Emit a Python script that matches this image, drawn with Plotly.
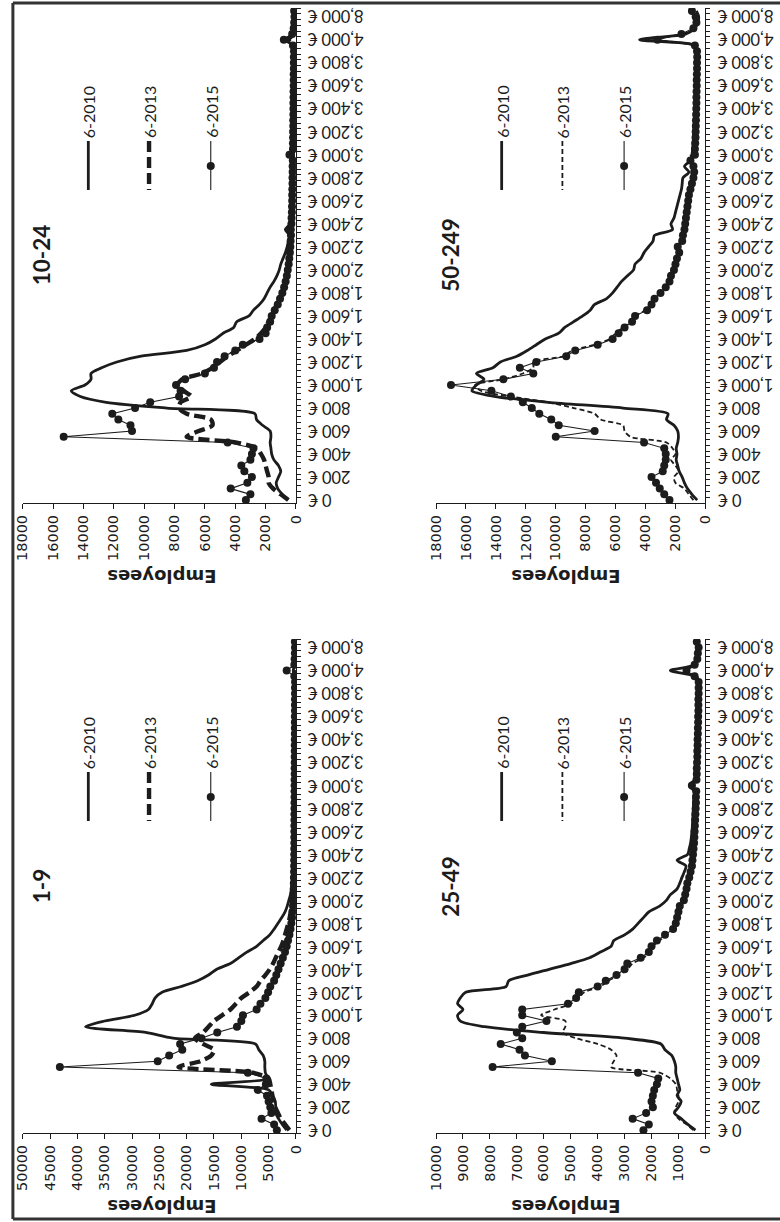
import plotly.graph_objects as go

W, H = 780, 1222
INK = "#1c1c1c"

# Wage bins (monthly gross salary, euros); labels shown every fourth bin
BINS = list(range(0, 4001, 50)) + [5000, 6000, 7000, 8000, 10000]
CATS = [f"{b:,} €" for b in BINS]
LABEL_STEP = 4

SERIES_NAMES = ["6-2010", "6-2013", "6-2015"]

TICKS_50K = [0, 5000, 10000, 15000, 20000, 25000, 30000, 35000, 40000, 45000, 50000]
TICKS_18K = [0, 2000, 4000, 6000, 8000, 10000, 12000, 14000, 16000, 18000]
TICKS_10K = [0, 1000, 2000, 3000, 4000, 5000, 6000, 7000, 8000, 9000, 10000]

# ---- firm size 1-9 ----
E1_2010 = [1700, 2500, 3200, 3700, 3700, 3800, 4300, 5000, 15500, 5200,
           5600, 5700, 5700, 6000, 6800, 7400, 22500, 27500, 38500, 35000,
           29500, 27000, 26300, 25800, 24500, 21000, 18000, 16000, 14500, 12000,
           10500, 9000, 7200, 6000, 4800, 4000, 3300, 2600, 2000, 1600,
           1300, 1000, 850, 750, 650, 600, 550, 500, 480, 450,
           420, 400, 390, 380, 370, 360, 350, 340, 330, 320,
           320, 310, 300, 300, 290, 280, 280, 270, 260, 260,
           250, 250, 240, 240, 230, 230, 220, 220, 210, 250,
           500, 200, 180, 160, 150, 150]
E1_2013 = [1200, 2000, 2800, 3300, 3800, 4000, 4300, 4500, 4700, 5000,
           8000, 21500, 17500, 15500, 15000, 17000, 18500, 17000, 16000, 15000,
           13500, 12000, 11000, 10000, 8500, 7200, 6500, 5600, 4800, 4200,
           3700, 3200, 2700, 2300, 2000, 1700, 1400, 1150, 950, 800,
           700, 620, 560, 520, 480, 450, 420, 400, 380, 360,
           340, 330, 320, 310, 300, 300, 290, 280, 270, 270,
           260, 250, 250, 240, 240, 230, 230, 220, 220, 210,
           210, 200, 200, 190, 190, 180, 180, 170, 170, 200,
           300, 160, 150, 140, 130, 130]
E1_2015 = [3500, 4000, 6300, 4500, 4700, 5000, 5300, 7000, 5500, 5400,
           8800, 43200, 25300, 23200, 20800, 21200, 17300, 14400, 10800, 10000,
           9700, 7200, 6500, 5600, 5100, 4700, 4000, 3600, 3200, 2800,
           2400, 2000, 1700, 1450, 1200, 1000, 850, 720, 620, 540,
           480, 440, 410, 390, 370, 350, 340, 330, 320, 310,
           300, 300, 290, 290, 280, 280, 270, 270, 260, 260,
           250, 250, 240, 240, 230, 230, 220, 220, 210, 210,
           200, 200, 200, 190, 190, 180, 180, 180, 170, 300,
           1700, 300, 250, 200, 180, 200]

# ---- firm size 10-24 ----
E10_2010 = [550, 900, 1200, 1300, 1150, 1000, 1150, 1450, 1600, 1650,
            1700, 1650, 1700, 2200, 2600, 2700, 8500, 12500, 14200, 14800,
            13900, 13500, 13500, 12800, 11800, 10200, 7200, 6000, 5300, 4800,
            4100, 3900, 3100, 2800, 2400, 2100, 1900, 1700, 1450, 1250,
            1100, 1000, 850, 700, 580, 500, 430, 700, 380, 260,
            200, 200, 190, 210, 180, 170, 190, 160, 170, 150,
            160, 150, 140, 150, 130, 140, 130, 120, 130, 120,
            110, 120, 110, 100, 110, 100, 110, 100, 90, 150,
            750, 150, 100, 100, 80, 100]
E10_2013 = [500, 1000, 1500, 1800, 1800, 1900, 2000, 2100, 2300, 2600,
            3900, 7200, 6400, 5500, 5600, 7200, 7700, 7600, 6900, 7400,
            7800, 7500, 6200, 5500, 5000, 4500, 3900, 3300, 2700, 2300,
            2000, 1800, 1600, 1450, 1250, 1050, 900, 800, 700, 600,
            520, 470, 430, 400, 370, 340, 320, 330, 290, 270,
            250, 240, 230, 230, 220, 210, 210, 200, 200, 190,
            190, 180, 180, 170, 170, 160, 160, 160, 150, 150,
            140, 140, 140, 130, 130, 130, 120, 120, 120, 150,
            500, 150, 100, 100, 90, 100]
E10_2015 = [3300, 3000, 4300, 3200, 2900, 3400, 3600, 3000, 2900, 2800,
            4500, 15300, 10800, 10900, 11700, 12100, 10600, 9600, 7700, 7600,
            7900, 7300, 6000, 5400, 5200, 4700, 4000, 3500, 2400, 2000,
            1900, 1700, 1600, 1400, 1200, 1050, 900, 780, 680, 600,
            540, 480, 440, 400, 370, 350, 330, 340, 300, 290,
            270, 260, 250, 250, 240, 230, 230, 220, 220, 210,
            430, 200, 200, 190, 190, 180, 180, 170, 170, 170,
            160, 160, 150, 150, 150, 140, 140, 140, 130, 200,
            800, 250, 150, 120, 100, 120]

# ---- firm size 25-49 ----
E25_2010 = [370, 650, 900, 1150, 1000, 900, 1050, 950, 1000, 1050,
            1100, 1100, 1150, 1250, 1500, 1650, 3000, 6000, 8200, 9100,
            9200, 9000, 9200, 9100, 8900, 7400, 7300, 6600, 5800, 5000,
            4300, 3900, 3500, 3400, 3000, 2700, 2500, 2300, 2100, 1700,
            1450, 1300, 1050, 950, 870, 780, 720, 1050, 660, 600,
            550, 520, 500, 480, 470, 460, 450, 440, 430, 420,
            600, 400, 390, 380, 370, 360, 360, 350, 340, 340,
            330, 330, 320, 320, 310, 310, 300, 300, 300, 400,
            1300, 400, 300, 250, 250, 280]
E25_2013 = [450, 700, 1000, 1150, 1100, 1000, 1000, 1050, 1100, 1300,
            1700, 3500, 3400, 3300, 3500, 4000, 4800, 5300, 5200, 5200,
            6100, 5600, 5000, 4700, 4500, 3900, 3600, 3200, 2900, 2700,
            2300, 2050, 1950, 1700, 1450, 1200, 1100, 1000, 950, 880,
            780, 720, 660, 610, 560, 520, 490, 470, 450, 430,
            410, 400, 390, 380, 370, 360, 350, 340, 330, 330,
            450, 320, 310, 300, 300, 290, 290, 280, 280, 270,
            270, 270, 260, 260, 250, 250, 250, 240, 240, 300,
            800, 300, 250, 220, 220, 250]
E25_2015 = [2300, 2100, 2700, 2200, 1950, 2000, 1950, 1900, 1800, 1750,
            2500, 7900, 5700, 6700, 6900, 7600, 6800, 7000, 6800, 5900,
            6800, 6800, 5100, 4800, 4700, 4000, 3700, 3300, 3000, 2900,
            2400, 2100, 2000, 1800, 1500, 1200, 1100, 1050, 1000, 950,
            800, 750, 700, 670, 600, 550, 500, 480, 460, 440,
            420, 410, 400, 390, 380, 370, 360, 350, 350, 340,
            500, 330, 320, 320, 310, 300, 300, 290, 290, 280,
            280, 270, 270, 260, 260, 260, 250, 250, 250, 400,
            700, 400, 300, 280, 250, 320]

# ---- firm size 50-249 ----
E50_2010 = [550, 900, 1200, 1400, 1550, 1750, 1850, 1950, 1900, 1950,
            1850, 1800, 1850, 2100, 2600, 2500, 5500, 10500, 14000, 15600,
            15300, 14800, 15300, 14200, 13700, 12600, 11900, 11300, 10700, 9800,
            9400, 8800, 8200, 7700, 7400, 6600, 6200, 5900, 5600, 5200,
            4800, 4700, 4300, 4100, 3800, 3500, 3400, 2200, 2300, 2100,
            2000, 1900, 1800, 1700, 1600, 1550, 1500, 1100, 1400, 1000,
            900, 850, 820, 800, 780, 760, 740, 720, 700, 690,
            680, 670, 660, 650, 640, 630, 620, 610, 600, 700,
            4400, 1300, 700, 500, 450, 600]
E50_2013 = [800, 1100, 1400, 2000, 2100, 1800, 2000, 2300, 2000, 2200,
            2600, 5000, 5400, 5500, 7000, 7400, 8800, 10500, 13000, 15000,
            15400, 13500, 12200, 11500, 11500, 9500, 8900, 7400, 6400, 6000,
            5500, 5000, 4700, 4000, 3700, 3500, 3100, 2800, 2500, 2400,
            2200, 2100, 1950, 1800, 1900, 1600, 1500, 1450, 1400, 1350,
            1300, 1250, 1200, 1150, 1100, 1000, 950, 900, 850, 800,
            1000, 780, 760, 740, 720, 700, 690, 680, 670, 660,
            650, 640, 630, 620, 610, 600, 600, 590, 580, 650,
            3600, 1500, 700, 550, 500, 700]
E50_2015 = [2400, 2750, 3050, 3300, 3600, 2850, 2750, 2650, 2650, 2750,
            4100, 10000, 7400, 9800, 10300, 11100, 11600, 12200, 13000, 14300,
            17000, 13500, 11500, 12400, 11300, 9300, 8700, 7200, 6200, 5800,
            5400, 4900, 4700, 3900, 3600, 3400, 3000, 2650, 2400, 2300,
            2100, 2000, 1900, 1750, 1850, 1550, 1500, 1400, 1350, 1300,
            1250, 1200, 1150, 1100, 1000, 900, 800, 750, 800, 1000,
            700, 700, 680, 660, 650, 640, 630, 620, 610, 600,
            600, 590, 580, 580, 570, 560, 560, 550, 560, 700,
            3200, 1600, 800, 600, 650, 900]

# Panel geometry in page pixels: plot box (left, right, top, bottom)
PANELS = [
    dict(title="10-24", box=(15, 294, 8, 503), vmax=18000, ticks=TICKS_18K,
         data=(E10_2010, E10_2013, E10_2015), heavy_dash=True, title_x=34, emp_x=157),
    dict(title="50-249", box=(437, 712, 8, 503), vmax=18000, ticks=TICKS_18K,
         data=(E50_2010, E50_2013, E50_2015), heavy_dash=False, title_x=451, emp_x=570),
    dict(title="1-9", box=(15, 294, 639, 1133), vmax=50000, ticks=TICKS_50K,
         data=(E1_2010, E1_2013, E1_2015), heavy_dash=True, title_x=34, emp_x=157),
    dict(title="25-49", box=(437, 712, 639, 1133), vmax=10000, ticks=TICKS_10K,
         data=(E25_2010, E25_2013, E25_2015), heavy_dash=False, title_x=451, emp_x=570),
]


def px(x):
    return x / W


def py(y):
    return 1 - y / H


fig = go.Figure()
annotations = []
shapes = []

for k, p in enumerate(PANELS):
    s = "" if k == 0 else str(k + 1)
    x0, x1, yt, yb = p["box"]
    e2010, e2013, e2015 = p["data"]
    dash13 = dict(width=4.4, dash="11px,5px") if p["heavy_dash"] else dict(width=1.8, dash="5px,3px")

    fig.add_trace(go.Scatter(
        x=e2010, y=CATS, xaxis="x" + s, yaxis="y" + s, mode="lines", name=SERIES_NAMES[0],
        line=dict(color=INK, width=2.8, shape="spline", smoothing=0.8)))
    fig.add_trace(go.Scatter(
        x=e2013, y=CATS, xaxis="x" + s, yaxis="y" + s, mode="lines", name=SERIES_NAMES[1],
        line=dict(color=INK, shape="spline", smoothing=0.8, **dash13)))
    fig.add_trace(go.Scatter(
        x=e2015, y=CATS, xaxis="x" + s, yaxis="y" + s, mode="lines+markers", name=SERIES_NAMES[2],
        line=dict(color=INK, width=1.1),
        marker=dict(color=INK, size=8, line=dict(width=0))))

    fig.update_layout(**{
        "xaxis" + s: dict(
            domain=[px(x0), px(x1)], anchor="y" + s, range=[p["vmax"], 0],
            tickmode="array", tickvals=p["ticks"], ticktext=[str(t) for t in p["ticks"]],
            tickangle=-90, ticks="outside", ticklen=5, tickcolor=INK, tickwidth=1.2,
            showline=True, linecolor=INK, linewidth=1.2, showgrid=False, zeroline=False,
            tickfont=dict(family="DejaVu Sans", size=14.5, color=INK), fixedrange=True),
        "yaxis" + s: dict(
            domain=[py(yb), py(yt)], anchor="x" + s, side="right", type="category",
            categoryorder="array", categoryarray=CATS, range=[-0.5, len(CATS) - 0.5],
            showticklabels=False, ticks="outside", tickson="boundaries", ticklen=4,
            tickcolor=INK, tickwidth=1, tickmode="linear", tick0=0, dtick=1,
            showline=True, linecolor=INK, linewidth=1.2, showgrid=False, zeroline=False,
            fixedrange=True),
    })

    # category labels, turned upside down beside the axis
    for i in range(0, len(CATS) - 1, LABEL_STEP):
        annotations.append(dict(
            text=CATS[i], xref="paper", yref="y" + s, x=px(x1 + 10), y=CATS[i],
            xanchor="left", yanchor="middle", textangle=180, showarrow=False,
            font=dict(family="Lato", size=16.5, color=INK)))

    # value-axis title
    annotations.append(dict(
        text="<b>Employees</b>", xref="paper", yref="paper", x=px(p["emp_x"]), y=py(yb + 74),
        xanchor="center", yanchor="middle", textangle=180, showarrow=False,
        font=dict(family="DejaVu Sans", size=18, color=INK)))

    # panel title
    annotations.append(dict(
        text="<b>" + p["title"] + "</b>", xref="paper", yref="paper", x=px(p["title_x"]),
        y=py(yt + 247), xanchor="center", yanchor="middle", textangle=-90, showarrow=False,
        font=dict(family="Lato", size=22.5, color=INK)))

    # legend: vertical key samples with labels reading upward
    lx = [x0 + 67, x0 + 129, x0 + 192]
    for j, name in enumerate(SERIES_NAMES):
        annotations.append(dict(
            text=name, xref="paper", yref="paper", x=px(lx[j]), y=py(yt + 104),
            xanchor="center", yanchor="middle", textangle=-90, showarrow=False,
            font=dict(family="Lato", size=16, color=INK)))
    shapes.append(dict(type="line", xref="paper", yref="paper",
                       x0=px(lx[0]), x1=px(lx[0]), y0=py(yt + 133), y1=py(yt + 182),
                       line=dict(color=INK, width=2.8)))
    shapes.append(dict(type="line", xref="paper", yref="paper",
                       x0=px(lx[1]), x1=px(lx[1]), y0=py(yt + 133), y1=py(yt + 182),
                       line=dict(color=INK, **dash13)))
    shapes.append(dict(type="line", xref="paper", yref="paper",
                       x0=px(lx[2]), x1=px(lx[2]), y0=py(yt + 133), y1=py(yt + 182),
                       line=dict(color=INK, width=1.1)))
    shapes.append(dict(type="circle", xref="paper", yref="paper",
                       xsizemode="pixel", ysizemode="pixel",
                       xanchor=px(lx[2]), yanchor=py(yt + 158),
                       x0=-4, x1=4, y0=-4, y1=4,
                       fillcolor=INK, line=dict(color=INK, width=0)))

# page frame
frame = dict(color="#333333", width=3)
shapes.append(dict(type="line", xref="paper", yref="paper", x0=px(5), x1=px(5),
                   y0=py(3), y1=py(1219), line=frame))
shapes.append(dict(type="line", xref="paper", yref="paper", x0=px(5), x1=1.02,
                   y0=py(3), y1=py(3), line=frame))
shapes.append(dict(type="line", xref="paper", yref="paper", x0=px(5), x1=1.02,
                   y0=py(1219), y1=py(1219), line=frame))

fig.update_layout(
    width=W, height=H, margin=dict(l=0, r=0, t=0, b=0),
    paper_bgcolor="white", plot_bgcolor="white",
    showlegend=False, hovermode=False,
    annotations=annotations, shapes=shapes,
)

fig.write_html("out.html")
